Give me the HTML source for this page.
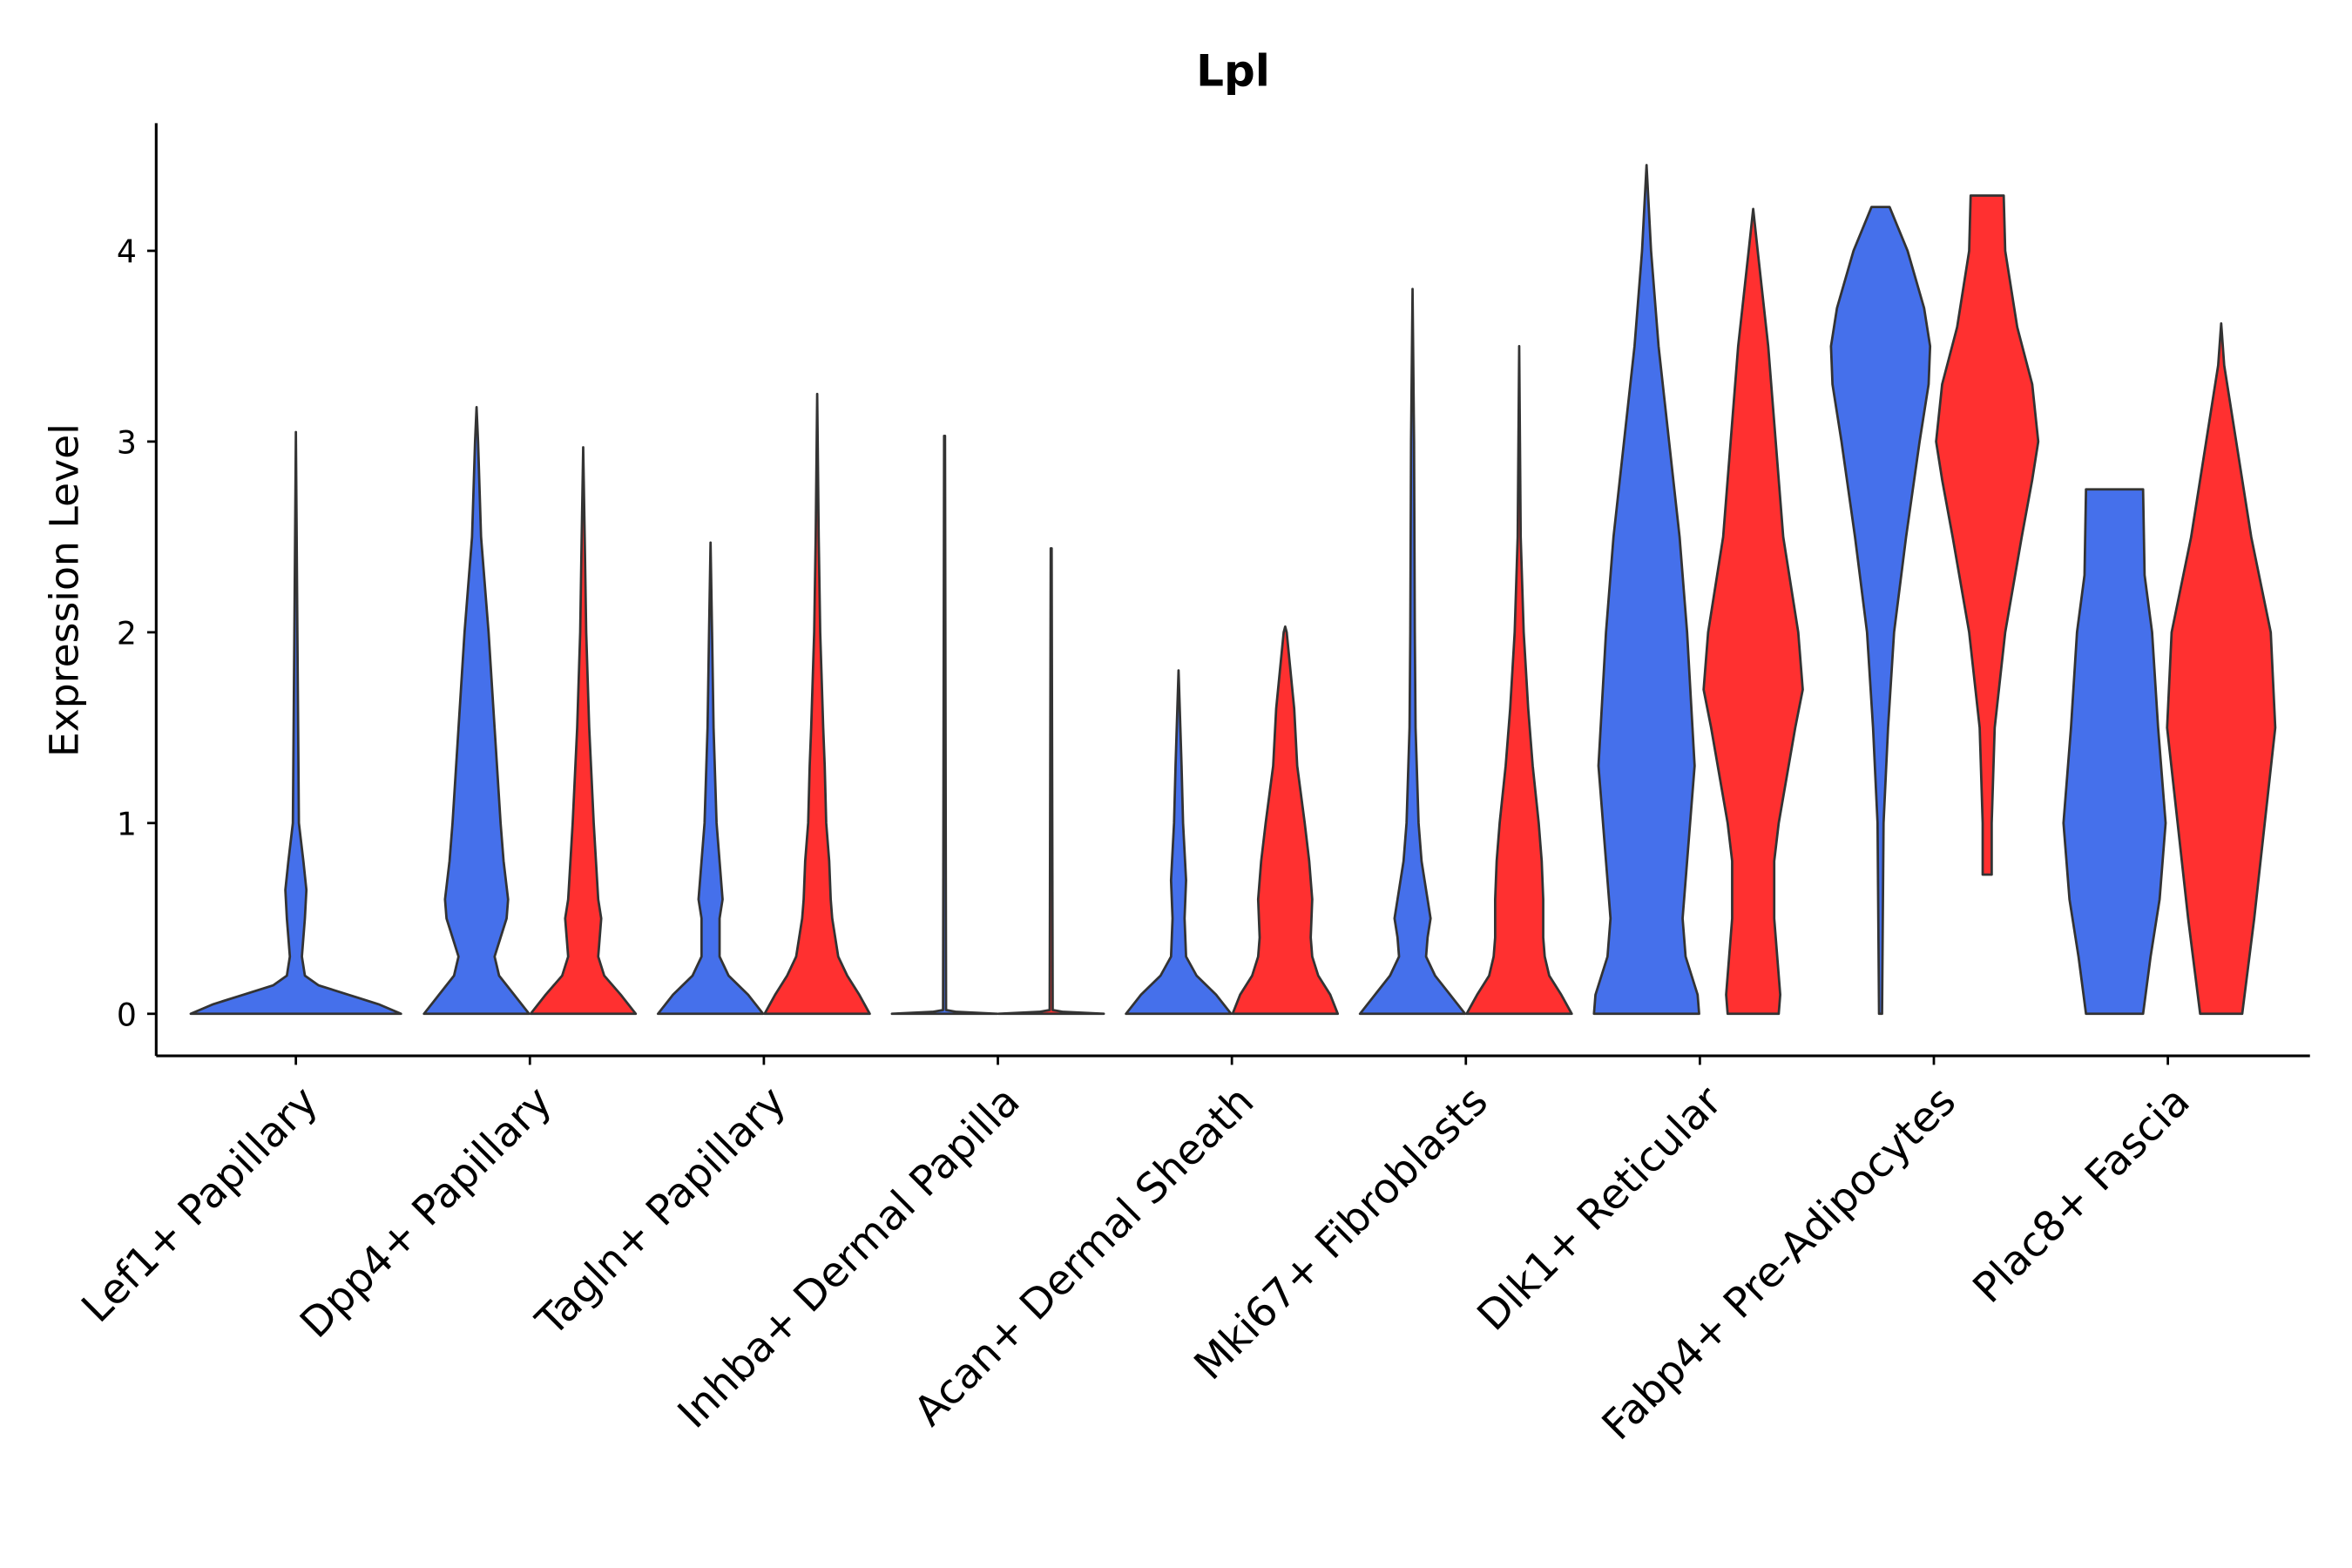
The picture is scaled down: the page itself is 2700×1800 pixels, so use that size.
<!DOCTYPE html>
<html><head><meta charset="utf-8"><style>html,body{margin:0;padding:0;background:#fff}svg{display:block}</style></head>
<body>
<svg id="chart" width="2700" height="1800" viewBox="0 0 1566 1044" preserveAspectRatio="none" xmlns="http://www.w3.org/2000/svg" font-family="'DejaVu Sans','Liberation Sans',sans-serif">
<text x="821" y="57" text-anchor="middle" font-size="29" font-weight="bold">Lpl</text>
<text transform="translate(52,393) rotate(-90)" text-anchor="middle" font-size="26.5">Expression Level</text>
<g id="violins"></g>
<g id="axes"></g>
</svg>
<script>
const categories = ["Lef1+ Papillary","Dpp4+ Papillary","Tagln+ Papillary","Inhba+ Dermal Papilla","Acan+ Dermal Sheath","Mki67+ Fibroblasts","Dlk1+ Reticular","Fabp4+ Pre-Adipocytes","Plac8+ Fascia"];
const yTicks = [0,1,2,3,4];
const groupColors = {blue:"#4570EB", red:"#FF3030"};
const violinCats = [0,1,1,2,2,3,3,4,4,5,5,6,6,7,7,8,8];
const violinGroups = ["blue","blue","red","blue","red","blue","red","blue","red","blue","red","blue","red","blue","red","blue","red"];
const violinSolo = [true,false,false,false,false,false,false,false,false,false,false,false,false,false,false,false,false];
const violinProfiles = [
 [[0,70],[0.05,55],[0.1,35],[0.15,15],[0.2,6],[0.3,4],[0.5,6],[0.65,7],[0.8,5],[1,2],[1.5,1.5],[2,1],[3.05,0]],
 [[0,35],[0.1,25],[0.2,15],[0.3,12],[0.4,16],[0.5,20],[0.6,21],[0.8,18],[1,16],[1.5,12],[2,8],[2.5,3],[3,1],[3.18,0]],
 [[0,35],[0.1,25],[0.2,14],[0.3,10],[0.4,11],[0.5,12],[0.6,10],[1,7],[1.5,4],[2,2],[2.5,1],[2.97,0]],
 [[0,35],[0.1,25],[0.2,12],[0.3,6],[0.5,6],[0.6,8],[0.8,6],[1,4],[1.5,2],[2,1],[2.47,0]],
 [[0,35],[0.1,28],[0.2,20],[0.3,14],[0.4,12],[0.5,10],[0.6,9],[0.8,8],[1,6],[1.3,5],[1.5,4],[2,2],[2.5,1],[3.25,0]],
 [[0,35],[0.01,8],[0.02,1],[3.03,0.3]],
 [[0,35],[0.01,8],[0.02,1],[2.44,0.3]],
 [[0,35],[0.1,25],[0.2,12],[0.3,5],[0.5,4],[0.7,5],[1,3],[1.3,2],[1.8,0]],
 [[0,35],[0.1,30],[0.2,22],[0.3,18],[0.4,17],[0.6,18],[0.8,16],[1,13],[1.3,8],[1.6,6],[2,1],[2.03,0]],
 [[0,35],[0.1,25],[0.2,15],[0.3,9],[0.4,10],[0.5,12],[0.6,10],[0.8,6],[1,4],[1.5,2],[2,1.5],[3,1],[3.8,0]],
 [[0,35],[0.1,28],[0.2,20],[0.3,17],[0.4,16],[0.6,16],[0.8,15],[1,13],[1.3,9],[1.6,6],[2,3],[2.5,1],[3.5,0]],
 [[0,35],[0.1,34],[0.2,30],[0.3,26],[0.5,24],[0.8,27],[1.3,32],[2,27],[2.5,22],[3,15],[3.5,8],[4,3],[4.45,0]],
 [[0,17],[0.1,18],[0.3,16],[0.5,14],[0.8,14],[1,17],[1.5,28],[1.7,33],[2,30],[2.5,20],[3,15],[3.5,10],[4,3],[4.22,0]],
 [[0,1],[1,2],[1.5,5],[2,9],[2.5,17],[3,26],[3.3,32],[3.5,33],[3.7,29],[4,18],[4.23,6]],
 [[0.73,3],[1,3],[1.5,5],[2,12],[2.5,23],[2.8,30],[3,34],[3.3,30],[3.6,20],[4,12],[4.29,11]],
 [[0,19],[0.3,24],[0.6,30],[1,34],[1.5,29],[2,25],[2.3,20],[2.75,19]],
 [[0,14],[0.5,22],[1,29],[1.5,36],[2,33],[2.5,20],[3,10],[3.4,2],[3.62,0]]
];
const NS="http://www.w3.org/2000/svg";
const x0=104, xEnd=1538, yTop=82, yBase=703;
function yScale(v){return 675-127*v;}
function xCat(i){return 197+i*155.8;}
function mk(tag,attrs,parent){const e=document.createElementNS(NS,tag);for(const k in attrs)e.setAttribute(k,attrs[k]);parent.appendChild(e);return e;}
const vg=document.getElementById('violins');
violinProfiles.forEach((prof,k)=>{
  const cx = violinSolo[k] ? xCat(violinCats[k]) : xCat(violinCats[k]) + (violinGroups[k]==="blue"?-35.5:35.5);
  const right=prof.map(p=>[cx+p[1],yScale(p[0])]);
  const left=prof.slice().reverse().map(p=>[cx-p[1],yScale(p[0])]);
  const pts=right.concat(left);
  const d="M"+pts.map(p=>p[0].toFixed(1)+","+p[1].toFixed(1)).join("L")+"Z";
  const path=mk('path',{d:d,fill:groupColors[violinGroups[k]],stroke:"#333",'stroke-width':1.6,'stroke-linejoin':'round'},vg);
  
  
});
const ag=document.getElementById('axes');
const yl=mk('line',{x1:x0,y1:yTop,x2:x0,y2:yBase,stroke:"#000",'stroke-width':1.8},ag);


const xl=mk('line',{x1:x0,y1:yBase,x2:xEnd,y2:yBase,stroke:"#000",'stroke-width':1.8},ag);


yTicks.forEach(t=>{
  const y=yScale(t);
  const tk=mk('line',{x1:x0-6,y1:y,x2:x0,y2:y,stroke:"#000",'stroke-width':1.6},ag);
  
  
  const tx=mk('text',{x:x0-13,y:y+8,'text-anchor':'end','font-size':21},ag);
  tx.textContent=t;
  
  
});
categories.forEach((c,i)=>{
  const x=xCat(i);
  const tk=mk('line',{x1:x,y1:yBase,x2:x,y2:yBase+6,stroke:"#000",'stroke-width':1.6},ag);
  
  
  const tx=mk('text',{transform:`translate(${x+16},${yBase+32}) rotate(-45)`,'text-anchor':'end','font-size':27.5},ag);
  tx.textContent=c;
  
  
});
</script>
</body></html>
